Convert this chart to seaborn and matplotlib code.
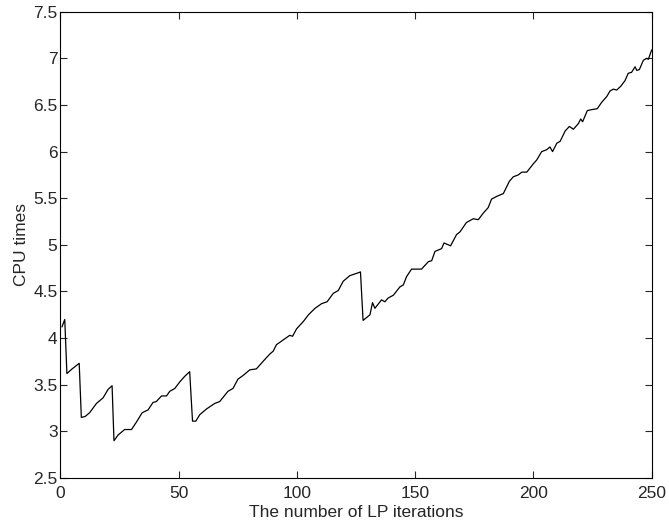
import matplotlib
matplotlib.use("Agg")
import matplotlib.pyplot as plt
import seaborn as sns
import pandas as pd


sns.set_style("ticks")
plt.rcParams["font.family"] = ["Liberation Sans", "DejaVu Sans"]


# values
iterations = [
    0.7, 1.9, 2.8, 5.0, 7.5, 8.0, 8.9, 10.5, 12.4, 15.3, 18.1, 20.2, 21.9,
    22.7, 24.4, 27.2, 30.1, 32.2, 34.6, 37.1, 39.2, 40.6, 42.8, 44.9, 46.3,
    48.4, 50.5, 52.6, 54.7, 55.9, 57.3, 59.0, 61.8, 65.3, 67.4, 70.9, 73.0,
    75.1, 77.3, 80.1, 82.9, 85.7, 88.6, 90.0, 91.4, 94.2, 97.0, 98.2, 99.9,
    102.8, 104.9, 107.7, 110.5, 112.8, 115.4, 117.5, 119.6, 122.4, 125.9,
    126.9, 128.0, 130.9, 132.0, 133.0, 135.8, 137.2, 138.6, 140.8, 143.6,
    145.0, 146.4, 148.5, 152.7, 155.6, 157.0, 158.4, 161.2, 162.2, 164.0,
    165.0, 167.5, 169.0, 171.7, 174.6, 176.7, 178.8, 180.9, 182.3, 184.5,
    187.3, 189.8, 191.5, 193.6, 195.1, 197.2, 200.0, 201.4, 203.5, 205.6,
    207.0, 208.1, 209.9, 211.3, 213.4, 215.2, 216.9, 219.0, 220.0, 220.8,
    222.8, 224.6, 227.0, 228.9, 231.0, 232.4, 233.8, 235.2, 236.9, 238.7,
    240.1, 241.5, 243.0, 243.7, 244.8, 246.5, 247.9, 248.6, 250.0,
]
cpu_times = [
    4.12, 4.20, 3.62, 3.67, 3.72, 3.73, 3.15, 3.16, 3.20, 3.30, 3.36, 3.45, 3.49,
    2.90, 2.96, 3.02, 3.02, 3.10, 3.20, 3.23, 3.31, 3.32, 3.38, 3.38, 3.43,
    3.46, 3.53, 3.59, 3.64, 3.11, 3.11, 3.18, 3.24, 3.30, 3.32, 3.43, 3.46,
    3.56, 3.60, 3.66, 3.67, 3.75, 3.83, 3.86, 3.93, 3.98, 4.03, 4.02, 4.10,
    4.18, 4.25, 4.32, 4.37, 4.39, 4.48, 4.51, 4.61, 4.67, 4.70,
    4.71, 4.19, 4.25, 4.38, 4.32, 4.41, 4.39, 4.43, 4.46, 4.55,
    4.57, 4.66, 4.74, 4.74, 4.82, 4.83, 4.93, 4.96, 5.02, 5.00,
    4.99, 5.11, 5.14, 5.24, 5.28, 5.27, 5.34, 5.40, 5.49, 5.52,
    5.55, 5.68, 5.73, 5.75, 5.78, 5.78, 5.87, 5.91, 6.00, 6.02,
    6.05, 6.00, 6.09, 6.11, 6.22, 6.27, 6.24, 6.30, 6.35, 6.32,
    6.44, 6.45, 6.46, 6.53, 6.59, 6.65, 6.67, 6.66, 6.70, 6.76,
    6.84, 6.85, 6.91, 6.87, 6.88, 6.98, 7.00, 6.99, 7.09,
]

x_ticks = [0, 50, 100, 150, 200, 250]
y_ticks = [2.5, 3, 3.5, 4, 4.5, 5, 5.5, 6, 6.5, 7, 7.5]
y_tick_labels = ["2.5", "3", "3.5", "4", "4.5", "5", "5.5", "6", "6.5", "7", "7.5"]

df = pd.DataFrame({"iter": iterations, "cpu": cpu_times})

fig = plt.figure(figsize=(6.69, 5.23), dpi=100)
ax = fig.add_axes([0.0901, 0.086, 0.884, 0.8916])

sns.lineplot(data=df, x="iter", y="cpu", color="black", linewidth=0.9,
             estimator=None, sort=False, ax=ax)

ax.set_xlim(0, 250)
ax.set_ylim(2.5, 7.5)
ax.set_xticks(x_ticks)
ax.set_yticks(y_ticks)
ax.set_yticklabels(y_tick_labels)
ax.tick_params(direction="in", length=5, width=0.8, labelsize=12.5,
               top=True, right=True)
ax.tick_params(axis="x", pad=6)
ax.tick_params(axis="y", pad=2)
for s in ax.spines.values():
    s.set_visible(True)
    s.set_linewidth(0.8)
    s.set_color("black")

ax.set_xlabel("The number of LP iterations", fontsize=12.5, labelpad=2.5)
ax.set_ylabel("CPU times", fontsize=12.5, labelpad=3)

fig.savefig("out.png", dpi=100)
